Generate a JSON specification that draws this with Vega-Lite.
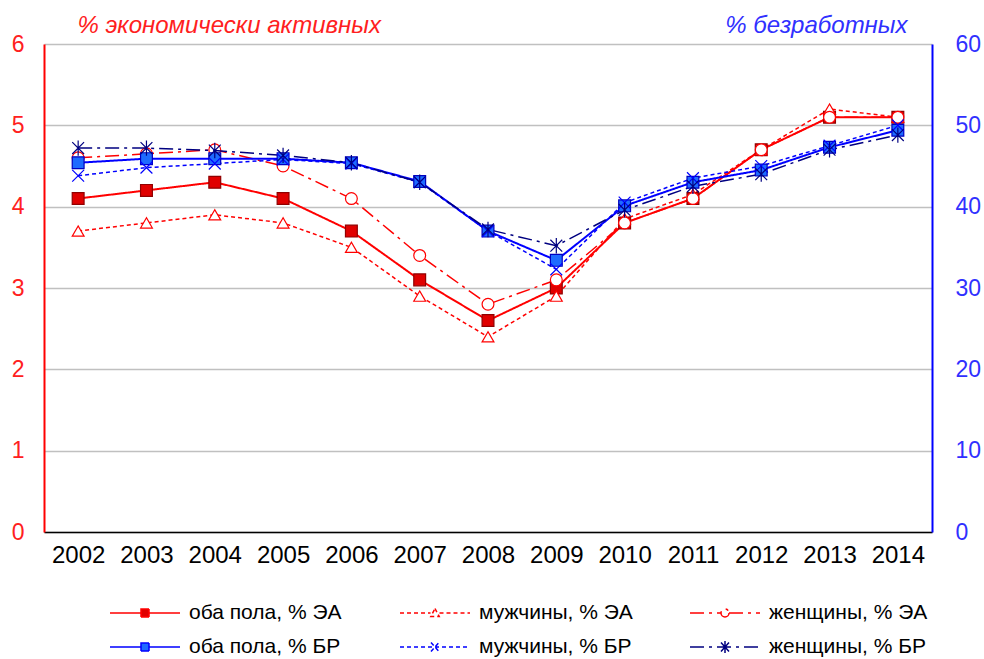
{
  "$schema": "https://vega.github.io/schema/vega-lite/v6.json",
  "width": 888,
  "height": 488,
  "autosize": "none",
  "padding": {"left": 44, "top": 44, "right": 52, "bottom": 127},
  "background": "white",
  "config": {"view": {"stroke": null}, "font": "Liberation Sans"},
  "data": {"values": [
    {"year":"2002","series":"оба пола, % ЭА","axis":"ЭА","value":4.1},
    {"year":"2003","series":"оба пола, % ЭА","axis":"ЭА","value":4.2},
    {"year":"2004","series":"оба пола, % ЭА","axis":"ЭА","value":4.3},
    {"year":"2005","series":"оба пола, % ЭА","axis":"ЭА","value":4.1},
    {"year":"2006","series":"оба пола, % ЭА","axis":"ЭА","value":3.7},
    {"year":"2007","series":"оба пола, % ЭА","axis":"ЭА","value":3.1},
    {"year":"2008","series":"оба пола, % ЭА","axis":"ЭА","value":2.6},
    {"year":"2009","series":"оба пола, % ЭА","axis":"ЭА","value":3.0},
    {"year":"2010","series":"оба пола, % ЭА","axis":"ЭА","value":3.8},
    {"year":"2011","series":"оба пола, % ЭА","axis":"ЭА","value":4.1},
    {"year":"2012","series":"оба пола, % ЭА","axis":"ЭА","value":4.7},
    {"year":"2013","series":"оба пола, % ЭА","axis":"ЭА","value":5.1},
    {"year":"2014","series":"оба пола, % ЭА","axis":"ЭА","value":5.1},
    {"year":"2002","series":"мужчины, % ЭА","axis":"ЭА","value":3.7},
    {"year":"2003","series":"мужчины, % ЭА","axis":"ЭА","value":3.8},
    {"year":"2004","series":"мужчины, % ЭА","axis":"ЭА","value":3.9},
    {"year":"2005","series":"мужчины, % ЭА","axis":"ЭА","value":3.8},
    {"year":"2006","series":"мужчины, % ЭА","axis":"ЭА","value":3.5},
    {"year":"2007","series":"мужчины, % ЭА","axis":"ЭА","value":2.9},
    {"year":"2008","series":"мужчины, % ЭА","axis":"ЭА","value":2.4},
    {"year":"2009","series":"мужчины, % ЭА","axis":"ЭА","value":2.9},
    {"year":"2010","series":"мужчины, % ЭА","axis":"ЭА","value":3.85},
    {"year":"2011","series":"мужчины, % ЭА","axis":"ЭА","value":4.15},
    {"year":"2012","series":"мужчины, % ЭА","axis":"ЭА","value":4.7},
    {"year":"2013","series":"мужчины, % ЭА","axis":"ЭА","value":5.2},
    {"year":"2014","series":"мужчины, % ЭА","axis":"ЭА","value":5.1},
    {"year":"2002","series":"женщины, % ЭА","axis":"ЭА","value":4.6},
    {"year":"2003","series":"женщины, % ЭА","axis":"ЭА","value":4.65},
    {"year":"2004","series":"женщины, % ЭА","axis":"ЭА","value":4.7},
    {"year":"2005","series":"женщины, % ЭА","axis":"ЭА","value":4.5},
    {"year":"2006","series":"женщины, % ЭА","axis":"ЭА","value":4.1},
    {"year":"2007","series":"женщины, % ЭА","axis":"ЭА","value":3.4},
    {"year":"2008","series":"женщины, % ЭА","axis":"ЭА","value":2.8},
    {"year":"2009","series":"женщины, % ЭА","axis":"ЭА","value":3.1},
    {"year":"2010","series":"женщины, % ЭА","axis":"ЭА","value":3.8},
    {"year":"2011","series":"женщины, % ЭА","axis":"ЭА","value":4.1},
    {"year":"2012","series":"женщины, % ЭА","axis":"ЭА","value":4.7},
    {"year":"2013","series":"женщины, % ЭА","axis":"ЭА","value":5.1},
    {"year":"2014","series":"женщины, % ЭА","axis":"ЭА","value":5.1},
    {"year":"2002","series":"оба пола, % БР","axis":"БР","value":45.4},
    {"year":"2003","series":"оба пола, % БР","axis":"БР","value":45.9},
    {"year":"2004","series":"оба пола, % БР","axis":"БР","value":45.9},
    {"year":"2005","series":"оба пола, % БР","axis":"БР","value":45.9},
    {"year":"2006","series":"оба пола, % БР","axis":"БР","value":45.4},
    {"year":"2007","series":"оба пола, % БР","axis":"БР","value":43.1},
    {"year":"2008","series":"оба пола, % БР","axis":"БР","value":37.0},
    {"year":"2009","series":"оба пола, % БР","axis":"БР","value":33.4},
    {"year":"2010","series":"оба пола, % БР","axis":"БР","value":40.1},
    {"year":"2011","series":"оба пола, % БР","axis":"БР","value":43.0},
    {"year":"2012","series":"оба пола, % БР","axis":"БР","value":44.5},
    {"year":"2013","series":"оба пола, % БР","axis":"БР","value":47.3},
    {"year":"2014","series":"оба пола, % БР","axis":"БР","value":49.4},
    {"year":"2002","series":"мужчины, % БР","axis":"БР","value":43.8},
    {"year":"2003","series":"мужчины, % БР","axis":"БР","value":44.8},
    {"year":"2004","series":"мужчины, % БР","axis":"БР","value":45.3},
    {"year":"2005","series":"мужчины, % БР","axis":"БР","value":45.8},
    {"year":"2006","series":"мужчины, % БР","axis":"БР","value":45.3},
    {"year":"2007","series":"мужчины, % БР","axis":"БР","value":43.0},
    {"year":"2008","series":"мужчины, % БР","axis":"БР","value":37.0},
    {"year":"2009","series":"мужчины, % БР","axis":"БР","value":32.3},
    {"year":"2010","series":"мужчины, % БР","axis":"БР","value":40.5},
    {"year":"2011","series":"мужчины, % БР","axis":"БР","value":43.5},
    {"year":"2012","series":"мужчины, % БР","axis":"БР","value":45.0},
    {"year":"2013","series":"мужчины, % БР","axis":"БР","value":47.5},
    {"year":"2014","series":"мужчины, % БР","axis":"БР","value":50.0},
    {"year":"2002","series":"женщины, % БР","axis":"БР","value":47.2},
    {"year":"2003","series":"женщины, % БР","axis":"БР","value":47.2},
    {"year":"2004","series":"женщины, % БР","axis":"БР","value":46.9},
    {"year":"2005","series":"женщины, % БР","axis":"БР","value":46.3},
    {"year":"2006","series":"женщины, % БР","axis":"БР","value":45.4},
    {"year":"2007","series":"женщины, % БР","axis":"БР","value":43.0},
    {"year":"2008","series":"женщины, % БР","axis":"БР","value":37.2},
    {"year":"2009","series":"женщины, % БР","axis":"БР","value":35.2},
    {"year":"2010","series":"женщины, % БР","axis":"БР","value":39.6},
    {"year":"2011","series":"женщины, % БР","axis":"БР","value":42.5},
    {"year":"2012","series":"женщины, % БР","axis":"БР","value":44.0},
    {"year":"2013","series":"женщины, % БР","axis":"БР","value":47.0},
    {"year":"2014","series":"женщины, % БР","axis":"БР","value":48.8}
  ]},
  "encoding": {
    "x": {
      "field": "year", "type": "ordinal",
      "scale": {"type": "point", "padding": 0.5},
      "axis": {"title": null, "labelAngle": 0, "labelFontSize": 24, "labelColor": "#000000", "labelPadding": 11, "ticks": false, "domainColor": "#000000", "domainWidth": 1.5, "grid": false}
    }
  },
  "layer": [
    {
      "transform": [{"filter": "datum.axis === 'ЭА'"}],
      "encoding": {
        "y": {
          "field": "value", "type": "quantitative",
          "scale": {"domain": [0, 6], "nice": false},
          "axis": {
            "orient": "left", "values": [0,1,2,3,4,5,6], "ticks": false, "grid": true, "gridColor": "#C0C0C0", "gridWidth": 1.5,
            "domainColor": "#FF0000", "domainWidth": 2, "labelColor": "#FF2020", "labelFontSize": 23, "labelPadding": 20,
            "title": "% экономически активных", "titleAngle": 0, "titleFontStyle": "italic", "titleFontWeight": "normal",
            "titleFontSize": 24, "titleColor": "#FF2020", "titleAlign": "left", "titleBaseline": "middle", "titleX": 33, "titleY": -19
          }
        }
      },
      "layer": [
        {
          "mark": {"type": "line"},
          "encoding": {
            "color": {"field": "series", "type": "nominal",
              "scale": {"domain": ["оба пола, % ЭА","мужчины, % ЭА","женщины, % ЭА","оба пола, % БР","мужчины, % БР","женщины, % БР"],
                        "range": ["#FF0000","#FF0000","#FF0000","#0000FF","#0000FF","#000080"]},
              "legend": {"title": null, "orient": "none", "legendX": 90, "legendY": 558, "columns": 3, "direction": "horizontal",
                "symbolType": "M-3.5,0H3.5", "symbolSize": 400, "symbolStrokeWidth": 1.5, "labelFontSize": 21, "labelColor": "#000000",
                "labelOffset": 33, "columnPadding": 49, "rowPadding": 13, "gridAlign": "all", "labelLimit": 300,
                "encode": {"symbols": {"update": {
                  "shape": {"signal": "indexof(datum.value, 'оба') === 0 ? 'M-3.5,0H-0.4M0.4,0H3.5M-0.4,-0.4H0.4V0.4H-0.4Z' : datum.value === 'мужчины, % ЭА' ? 'M-3.5,0H-0.45M0.45,0H3.5M0,-0.45L0.42,0.35H-0.42Z' : datum.value === 'женщины, % ЭА' ? 'M-3.5,0H-0.4M0.4,0H3.5M0.4,0A0.4,0.4 0 1,1 -0.4,0A0.4,0.4 0 1,1 0.4,0Z' : datum.value === 'мужчины, % БР' ? 'M-3.5,0H3.5M-0.4,-0.45L0.4,0.45M-0.4,0.45L0.4,-0.45' : 'M-3.5,0H3.5M-0.4,-0.45L0.4,0.45M-0.4,0.45L0.4,-0.45M0,-0.6V0.6'"},
                  "fill": {"signal": "datum.value === 'оба пола, % ЭА' ? '#E00000' : datum.value === 'оба пола, % БР' ? '#1E6BFF' : indexof(datum.value, 'ЭА') >= 0 ? '#FFFFFF' : 'transparent'"}
                }}}
              }},
            "strokeDash": {"field": "series", "type": "nominal",
              "scale": {"domain": ["оба пола, % ЭА","мужчины, % ЭА","женщины, % ЭА","оба пола, % БР","мужчины, % БР","женщины, % БР"],
                        "range": [[1,0],[4,3],[14,5,3,5],[1,0],[4,3],[14,5,3,5]]},
              "legend": {"title": null, "orient": "none", "legendX": 90, "legendY": 558, "columns": 3, "direction": "horizontal",
                "symbolType": "M-3.5,0H3.5", "symbolSize": 400, "symbolStrokeWidth": 1.5, "labelFontSize": 21, "labelColor": "#000000",
                "labelOffset": 33, "columnPadding": 49, "rowPadding": 13, "gridAlign": "all", "labelLimit": 300}},
            "strokeWidth": {"condition": {"test": "indexof(datum.series, 'оба') === 0", "value": 2}, "value": 1.5}
          }
        },
        {
          "mark": {"type": "point", "opacity": 1, "size": 140, "strokeWidth": 1.2},
          "encoding": {
            "shape": {"condition": [
              {"test": "indexof(datum.series, 'оба') === 0", "value": "square"},
              {"test": "datum.series === 'мужчины, % ЭА'", "value": "triangle-up"},
              {"test": "datum.series === 'женщины, % ЭА'", "value": "circle"},
              {"test": "datum.series === 'мужчины, % БР'", "value": "M-1,-1L1,1M-1,1L1,-1"}
            ], "value": "M-1,-1L1,1M-1,1L1,-1M0,-1.3V1.3"},
            "fill": {"condition": [
              {"test": "datum.series === 'оба пола, % ЭА'", "value": "#E00000"},
              {"test": "datum.series === 'оба пола, % БР'", "value": "#1E6BFF"},
              {"test": "indexof(datum.series, 'ЭА') >= 0", "value": "#FFFFFF"}
            ], "value": "transparent"},
            "stroke": {"condition": [
              {"test": "datum.series === 'оба пола, % ЭА'", "value": "#900000"},
              {"test": "indexof(datum.series, 'ЭА') >= 0", "value": "#FF0000"},
              {"test": "datum.series === 'оба пола, % БР'", "value": "#0000C0"},
              {"test": "datum.series === 'мужчины, % БР'", "value": "#0000FF"}
            ], "value": "#000080"}
          }
        }
      ]
    },
    {
      "transform": [{"filter": "datum.axis === 'БР'"}],
      "encoding": {
        "y": {
          "field": "value", "type": "quantitative",
          "scale": {"domain": [0, 60], "nice": false},
          "axis": {
            "orient": "right", "values": [0,10,20,30,40,50,60], "ticks": false, "grid": false,
            "domainColor": "#0000FF", "domainWidth": 2, "labelColor": "#3030FF", "labelFontSize": 23, "labelPadding": 23,
            "title": "% безработных", "titleAngle": 0, "titleFontStyle": "italic", "titleFontWeight": "normal",
            "titleFontSize": 24, "titleColor": "#3030FF", "titleAlign": "right", "titleBaseline": "middle", "titleX": -25, "titleY": -19
          }
        }
      },
      "layer": [
        {
          "mark": {"type": "line"},
          "encoding": {
            "color": {"field": "series", "type": "nominal"},
            "strokeDash": {"field": "series", "type": "nominal"},
            "strokeWidth": {"condition": {"test": "indexof(datum.series, 'оба') === 0", "value": 2}, "value": 1.5}
          }
        },
        {
          "mark": {"type": "point", "opacity": 1, "size": 140, "strokeWidth": 1.2},
          "encoding": {
            "shape": {"condition": [
              {"test": "indexof(datum.series, 'оба') === 0", "value": "square"},
              {"test": "datum.series === 'мужчины, % ЭА'", "value": "triangle-up"},
              {"test": "datum.series === 'женщины, % ЭА'", "value": "circle"},
              {"test": "datum.series === 'мужчины, % БР'", "value": "M-1,-1L1,1M-1,1L1,-1"}
            ], "value": "M-1,-1L1,1M-1,1L1,-1M0,-1.3V1.3"},
            "fill": {"condition": [
              {"test": "datum.series === 'оба пола, % ЭА'", "value": "#E00000"},
              {"test": "datum.series === 'оба пола, % БР'", "value": "#1E6BFF"},
              {"test": "indexof(datum.series, 'ЭА') >= 0", "value": "#FFFFFF"}
            ], "value": "transparent"},
            "stroke": {"condition": [
              {"test": "datum.series === 'оба пола, % ЭА'", "value": "#900000"},
              {"test": "indexof(datum.series, 'ЭА') >= 0", "value": "#FF0000"},
              {"test": "datum.series === 'оба пола, % БР'", "value": "#0000C0"},
              {"test": "datum.series === 'мужчины, % БР'", "value": "#0000FF"}
            ], "value": "#000080"}
          }
        }
      ]
    }
  ],
  "resolve": {"scale": {"y": "independent"}, "axis": {"y": "independent"}}
}
